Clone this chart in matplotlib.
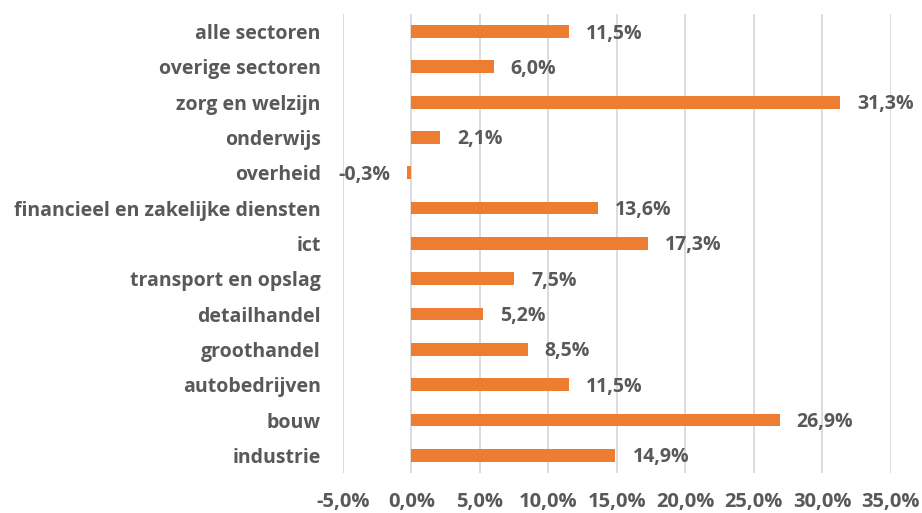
import matplotlib
matplotlib.use("Agg")
import matplotlib.pyplot as plt

categories = ["alle sectoren", "overige sectoren", "zorg en welzijn", "onderwijs", "overheid",
              "financieel en zakelijke diensten", "ict", "transport en opslag", "detailhandel",
              "groothandel", "autobedrijven", "bouw", "industrie"]
values = [11.5, 6.0, 31.3, 2.1, -0.3, 13.6, 17.3, 7.5, 5.2, 8.5, 11.5, 26.9, 14.9]
xticks = [-5, 0, 5, 10, 15, 20, 25, 30, 35]


def pct(v):
    return f"{v:.1f}%".replace('.', ',')


plt.rcParams['font.family'] = ['Open Sans', 'DejaVu Sans']
txt = '#595959'
fs = 14
fig = plt.figure(figsize=(9.22, 5.13), dpi=100)
ax = fig.add_axes([0.372, 0.078, 0.594, 0.895])

n = len(categories)
ypos = list(range(n - 1, -1, -1))
ax.barh(ypos, values, height=0.36, color='#ED7D31', zorder=3)
ax.set_xlim(-5, 35)
ax.set_ylim(-0.5, n - 0.5)
ax.set_xticks(xticks)
ax.set_xticklabels([pct(t) for t in xticks], fontweight='bold', fontsize=14.5, color=txt)
ax.set_yticks(ypos)
ax.set_yticklabels(categories, fontweight='bold', fontsize=fs, color=txt)
ax.tick_params(axis='both', length=0)
ax.tick_params(axis='y', pad=16)
ax.tick_params(axis='x', pad=14)
ax.grid(axis='x', color='#D9D9D9', linewidth=1.3, zorder=0)
for s in ax.spines.values():
    s.set_visible(False)

for y, v in zip(ypos, values):
    s = pct(v)
    if v >= 0:
        ax.annotate(s, (v, y), xytext=(17, -2), textcoords='offset pixels',
                    ha='left', va='center', fontsize=fs, fontweight='bold', color=txt)
    else:
        ax.annotate(s, (v, y), xytext=(-17, -2), textcoords='offset pixels',
                    ha='right', va='center', fontsize=fs, fontweight='bold', color=txt)

fig.savefig('out.png', dpi=100)
